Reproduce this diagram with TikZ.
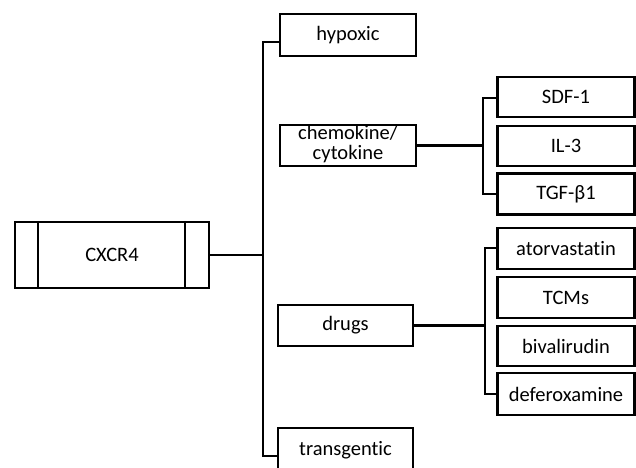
\documentclass[tikz,border=0pt]{standalone}
\usepackage{fontspec}
\setmainfont{Carlito}[Ligatures={NoCommon}]
\begin{document}
\begin{tikzpicture}[x=1pt,y=-1pt,
  box/.style={draw,line width=2.3pt,rectangle,inner sep=0pt,align=center,
    font=\fontsize{20.5}{20.5}\selectfont},
  conn/.style={line width=2.3pt,line cap=rect}]
\useasboundingbox (0,0) rectangle (636,467);
\clip (0,0) rectangle (636,467);
% main boxes
\node[box,minimum width=194pt,minimum height=66pt] (cxcr4) at (112,255) {CXCR4};
\draw[line width=2.3pt] ([xshift=24pt]cxcr4.north west) -- ([xshift=24pt]cxcr4.south west);
\draw[line width=2.3pt] ([xshift=-25pt]cxcr4.north east) -- ([xshift=-25pt]cxcr4.south east);
\node[box,minimum width=136pt,minimum height=42pt] (hypoxic) at (348,35) {hypoxic};
\node[box,minimum width=136pt,minimum height=41pt] (chemo) at (348,145.5) {\raisebox{2pt}{\begin{tabular}{@{}c@{}}chemokine/\\[-1pt]cytokine\end{tabular}}};
\node[box,minimum width=135pt,minimum height=41pt] (drugs) at (345.5,325.5) {drugs};
\node[box,minimum width=135pt,minimum height=44pt] (transg) at (345.5,450) {transgentic};
% chemokine children
\node[box,minimum width=137pt,minimum height=40pt] (sdf) at (566,97) {SDF-1};
\node[box,minimum width=137pt,minimum height=40pt] (il) at (566,146) {IL-3};
\node[box,minimum width=137pt,minimum height=41pt] (tgf) at (566,194) {TGF-β1};
% drug children
\node[box,minimum width=137pt,minimum height=41pt] (ator) at (566,248.5) {atorvastatin};
\node[box,minimum width=137pt,minimum height=41pt] (tcm) at (566,297.5) {TCMs};
\node[box,minimum width=137pt,minimum height=40pt] (biva) at (566,346) {bivalirudin};
\node[box,minimum width=137pt,minimum height=42pt] (defe) at (566,394) {deferoxamine};
% main bus
\coordinate (bt) at (263,42);
\coordinate (bb) at (263,456);
\draw[conn] (hypoxic.west |- bt) -- (bt) -- (bb) -- (transg.west |- bb);
\draw[conn] (cxcr4.east) -- (cxcr4.east -| bt);
% chemokine sub bus
\coordinate (s1) at (483,98);
\draw[conn] (sdf.west |- s1) -- (s1) -- (tgf.west -| s1) -- (tgf.west);
\draw[conn] (chemo.east) -- (chemo.east -| s1);
% drugs sub bus
\coordinate (s2) at (485,248);
\draw[conn] (ator.west |- s2) -- (s2) -- (defe.west -| s2) -- (defe.west);
\draw[conn] (drugs.east) -- (drugs.east -| s2);
\end{tikzpicture}
\end{document}
